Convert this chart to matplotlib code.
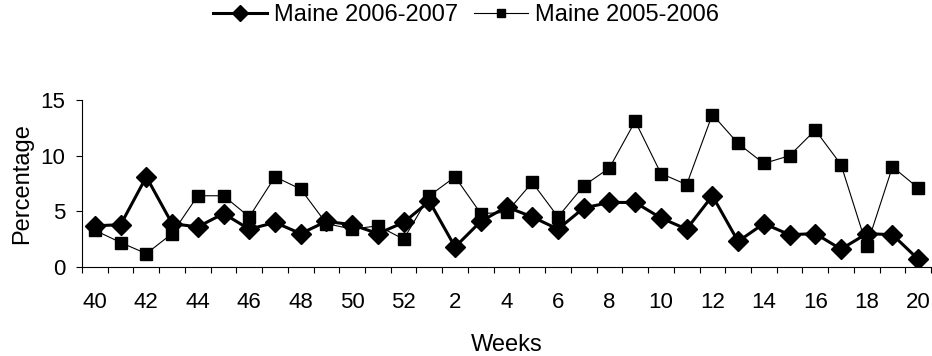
import numpy as np
import matplotlib.pyplot as plt
import matplotlib as mpl

mpl.rcParams['font.family'] = ['Liberation Sans', 'DejaVu Sans']
mpl.rcParams['font.size'] = 16

weeks = [40, 41, 42, 43, 44, 45, 46, 47, 48, 49, 50, 51, 52,
         1, 2, 3, 4, 5, 6, 7, 8, 9, 10, 11, 12, 13, 14, 15, 16, 17, 18, 19, 20]
maine_0607 = [3.7, 3.8, 8.1, 3.9, 3.6, 4.8, 3.4, 4.0, 3.0, 4.1, 3.8, 3.0, 4.0,
              5.9, 1.8, 4.1, 5.4, 4.5, 3.4, 5.3, 5.8, 5.8, 4.4, 3.4, 6.4,
              2.3, 3.9, 2.9, 3.0, 1.6, 3.0, 2.9, 0.7]
maine_0506 = [3.3, 2.2, 1.2, 3.0, 6.4, 6.4, 4.5, 8.1, 7.0, 3.9, 3.4, 3.7, 2.5,
              6.4, 8.1, 4.8, 4.9, 7.6, 4.5, 7.3, 8.9, 13.1, 8.4, 7.4, 13.7,
              11.1, 9.3, 10.0, 12.3, 9.2, 1.9, 9.0, 7.1]

x = np.arange(len(weeks))

fig = plt.figure(figsize=(9.32, 3.56), dpi=100)
ax = fig.add_axes([0.088, 0.25, 0.911, 0.469])

ax.plot(x, maine_0607, color='black', lw=2.2, marker='D', ms=10.5,
        label='Maine 2006-2007')
ax.plot(x, maine_0506, color='black', lw=0.8, marker='s', ms=8,
        label='Maine 2005-2006')

ax.set_xlim(-0.5, len(weeks) - 0.5)
ax.set_ylim(0, 15)
ax.set_yticks([0, 5, 10, 15])
ax.set_xticks(x[::2])
ax.set_xticklabels([str(w) for w in weeks[::2]])
ax.set_xticks(np.arange(-0.5, len(weeks), 1), minor=True)
ax.tick_params(axis='x', which='major', length=0, pad=18)
ax.tick_params(axis='x', which='minor', length=4, width=0.8)
ax.tick_params(axis='y', length=4, width=0.8, pad=8)
for side in ['left', 'bottom']:
    ax.spines[side].set_linewidth(0.8)
for side in ['top', 'right']:
    ax.spines[side].set_visible(False)

ax.set_xlabel('Weeks', fontsize=17, labelpad=15)
ax.set_ylabel('Percentage', fontsize=17, labelpad=5)

fig.legend(loc='center', bbox_to_anchor=(0.5, 1 - 15 / 356), ncol=2,
           frameon=False, handlelength=2.3, columnspacing=0.65,
           handletextpad=0.3, markerscale=0.75, fontsize=17)

fig.savefig('out.png', dpi=100)
